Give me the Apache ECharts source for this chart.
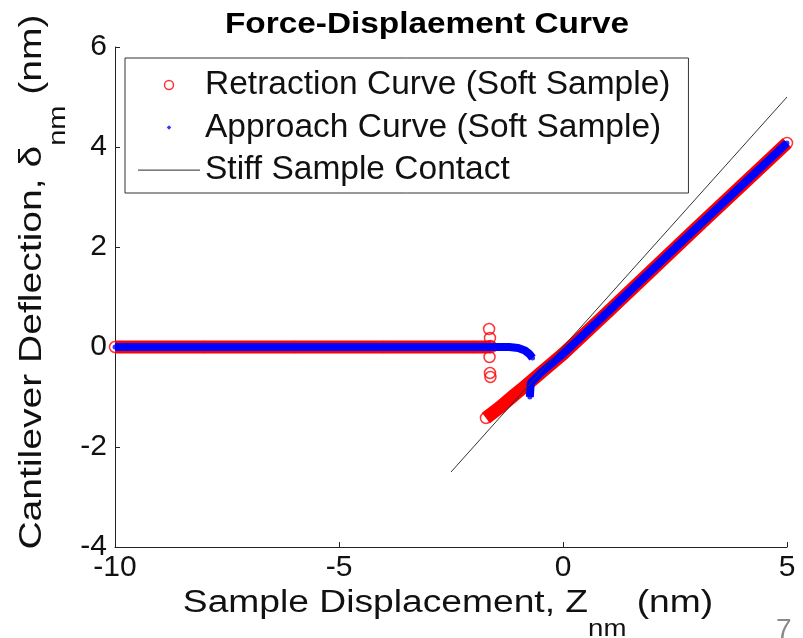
<!DOCTYPE html>
<html>
<head>
<meta charset="utf-8">
<script src="https://cdn.jsdelivr.net/npm/echarts@6/dist/echarts.min.js"></script>
<style>
html,body{margin:0;padding:0;background:#fff;}
#chart{width:803px;height:638px;}
</style>
</head>
<body>
<div id="chart"></div>
<script>
// ---- data ----
var xTicks = [-10, -5, 0, 5];
var yTicks = [-4, -2, 0, 2, 4, 6];

// Retraction curve (soft sample)
var retractionFlat = [[-10, 0], [-8, 0], [-6, 0], [-4, 0], [-2, 0], [-1.6, 0]];
var retractionScatter = [[-1.65, 0.36], [-1.63, 0.18], [-1.62, 0.02], [-1.64, -0.2], [-1.63, -0.52], [-1.62, -0.6]];
var retractionContact = [[-1.72, -1.42], [-1.4, -1.2], [-1.1, -0.97], [-0.8, -0.75], [-0.5, -0.52],
                         [0, -0.14], [1, 0.7], [2, 1.55], [3, 2.4], [4, 3.24], [5, 4.08]];

// Approach curve (soft sample)
var approachFree = [[-10, 0], [-8, 0], [-6, 0], [-4, 0], [-2, 0], [-1.2, 0], [-1.0, -0.02],
                    [-0.85, -0.07], [-0.75, -0.14], [-0.68, -0.22]];
var approachContact = [[-0.74, -1.0], [-0.72, -0.72], [-0.5, -0.52], [0, -0.14], [1, 0.7],
                       [2, 1.55], [3, 2.4], [4, 3.24], [5, 4.08]];

// Stiff sample contact
var stiffLine = [[-2.5, -2.5], [5, 5]];

var names = ['Retraction Curve (Soft Sample)', 'Approach Curve (Soft Sample)', 'Stiff Sample Contact'];

var FONT = '"Liberation Sans", Arial, Helvetica, sans-serif';
var RED = '#ff0000', BLUE = '#0000ff';

var chart = echarts.init(document.getElementById('chart'), null, {renderer: 'canvas'});

var richAxis = {
  a: {fontSize: 31, fontFamily: FONT, fill: '#111', verticalAlign: 'top', lineHeight: 32},
  s: {fontSize: 23, fontFamily: FONT, fill: '#111', verticalAlign: 'top', lineHeight: 23, padding: [30, 0, 0, 0]}
};

var option = {
  backgroundColor: '#ffffff',
  animation: false,
  grid: {left: 115, right: 16, top: 47, bottom: 91, containLabel: false},
  xAxis: {
    type: 'value', min: xTicks[0], max: xTicks[xTicks.length - 1], interval: 5,
    axisLine: {show: true, onZero: false, lineStyle: {color: '#222', width: 1}},
    axisTick: {show: true, inside: true, length: 5, lineStyle: {color: '#222'}},
    axisLabel: {fontSize: 30, color: '#111', fontFamily: FONT, margin: 6},
    splitLine: {show: false}
  },
  yAxis: {
    type: 'value', min: yTicks[0], max: yTicks[yTicks.length - 1], interval: 2,
    axisLine: {show: true, onZero: false, lineStyle: {color: '#222', width: 1}},
    axisTick: {show: true, inside: true, length: 5, lineStyle: {color: '#222'}},
    axisLabel: {fontSize: 30, color: '#111', fontFamily: FONT, margin: 8},
    splitLine: {show: false}
  },
  legend: {
    data: [
      {name: names[0], icon: 'circle', itemStyle: {color: 'rgba(0,0,0,0)', borderColor: RED, borderWidth: 1.5}},
      {name: names[1], icon: 'path://M0,0 M10,10 M5,2.5 L7.5,5 L5,7.5 L2.5,5 Z', itemStyle: {color: BLUE}},
      {name: names[2], icon: 'path://M0,0 M62,9 M0,4 L62,4 L62,5.2 L0,5.2 Z', itemStyle: {color: '#555'}}
    ],
    orient: 'vertical',
    left: 125, top: 58,
    padding: [10, 18, 6, 13],
    itemGap: 8.5,
    itemWidth: 62, itemHeight: 9,
    backgroundColor: '#fff',
    borderColor: '#333', borderWidth: 1, borderRadius: 0,
    selectedMode: false,
    textStyle: {fontSize: 33.5, color: '#111', fontFamily: FONT, padding: [0, 0, 0, 0]}
  },
  graphic: [
    {type: 'text', x: 427, y: 10, scaleX: 1.15, style: {text: 'Force-Displaement Curve', fill: '#000',
      font: 'bold 29px ' + FONT, textAlign: 'center', textVerticalAlign: 'top'}},
    {type: 'text', x: 448, y: 588, scaleX: 1.2, style: {
      text: '{a|Sample Displacement, Z}{s|nm}{a| (nm)}', textAlign: 'center', textVerticalAlign: 'top',
      rich: richAxis}},
    {type: 'text', x: 17, y: 282, rotation: Math.PI / 2, scaleX: 1.26, style: {
      text: '{a|Cantilever Deflection, δ}{s|nm}{a| (nm)}', textAlign: 'center', textVerticalAlign: 'top',
      rich: richAxis}},
    {type: 'text', x: 776, y: 616, style: {text: '7', fill: '#8a8a8a', font: '28px ' + FONT}}
  ],
  series: [
    {name: 'retBandFlat', type: 'line', data: retractionFlat, symbol: 'none', silent: true,
     lineStyle: {color: RED, width: 13}, z: 2},
    {name: 'retBandContact', type: 'line', data: retractionContact, symbol: 'none', silent: true,
     lineStyle: {color: RED, width: 13}, z: 2},
    {name: names[0], type: 'scatter', data: retractionFlat.concat(retractionScatter, retractionContact),
     symbol: 'circle', symbolSize: 11,
     itemStyle: {color: 'rgba(0,0,0,0)', borderColor: RED, borderWidth: 1.5}, z: 3},
    {name: 'appBandFree', type: 'line', data: approachFree, symbol: 'none', silent: true,
     lineStyle: {color: BLUE, width: 8}, z: 4},
    {name: 'appBandContact', type: 'line', data: approachContact, symbol: 'none', silent: true,
     lineStyle: {color: BLUE, width: 8}, z: 4},
    {name: names[1], type: 'scatter', data: approachFree.concat(approachContact),
     symbol: 'circle', symbolSize: 5, itemStyle: {color: BLUE}, z: 5},
    {name: names[2], type: 'line', data: stiffLine, symbol: 'none',
     lineStyle: {color: '#333', width: 1}, itemStyle: {color: '#333'}, z: 6}
  ]
};
chart.setOption(option);
</script>
</body>
</html>
